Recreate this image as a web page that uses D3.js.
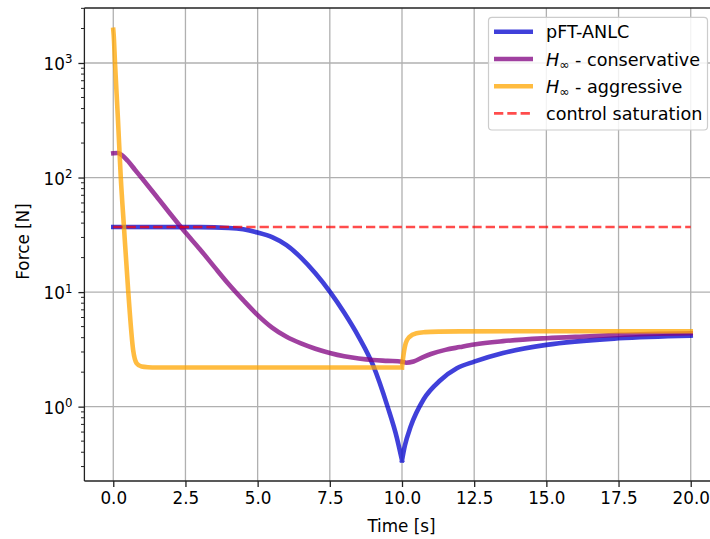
<!DOCTYPE html>
<html><head><meta charset="utf-8">
<script src="https://cdn.jsdelivr.net/npm/d3@7"></script>
<style>body{margin:0;background:#fff}svg{display:block}text{font-family:"DejaVu Sans",sans-serif;fill:#000}</style>
</head><body><svg id="c" width="710" height="539"></svg>
<script>
// ---------- data ----------
const xTickValues = [0, 2.5, 5, 7.5, 10, 12.5, 15, 17.5, 20];
const yMajorTicks = [1, 10, 100, 1000];
const seriesNames = ["pFT-ANLC", "H∞ - conservative", "H∞ - aggressive", "control saturation"];

// pFT-ANLC (split at the cusp t = 10)
const tBluePre  = [0, 3, 4, 4.5, 5, 5.5, 6, 6.5, 7, 7.5, 8, 8.5, 9, 9.5, 9.82, 10];
const fBluePre  = [37, 36.9, 36.3, 35.3, 33.1, 30.2, 25.7, 20.0, 14.6, 10.1, 6.6, 4.07, 2.29, 1.0, 0.537, 0.34];
const tBluePost = [10, 10.1, 10.3, 10.75, 11.33, 11.9, 12.5, 13.5, 15, 17.5, 20];
const fBluePost = [0.34, 0.457, 0.67, 1.16, 1.7, 2.16, 2.47, 2.94, 3.46, 3.95, 4.17];

// H∞ - conservative
const tPurple = [0, 0.15, 0.3, 0.5, 0.75, 1, 1.5, 2, 2.5, 3, 3.5, 4, 4.5, 5, 5.5, 6, 6.5, 7, 7.5, 8, 8.5, 9, 9.5, 10, 10.15, 10.4, 10.75, 11, 11.5, 12, 12.5, 13.5, 15, 16.5, 17.5, 20];
const fPurple = [163, 164, 157, 140, 117, 98, 68.4, 47.3, 33.1, 23.7, 16.6, 11.7, 8.5, 6.3, 4.9, 4.07, 3.56, 3.2, 2.94, 2.75, 2.63, 2.55, 2.51, 2.47, 2.42, 2.48, 2.72, 2.88, 3.13, 3.31, 3.49, 3.73, 3.96, 4.12, 4.23, 4.37];

// H∞ - aggressive (split at the jump t = 10)
const tYellowPre  = [0, 0.015, 0.06, 0.16, 0.26, 0.37, 0.52, 0.69, 0.81, 0.98, 1.2, 1.5, 10];
const fYellowPre  = [1950, 1750, 1000, 330, 100, 37, 10, 3.1, 2.39, 2.24, 2.21, 2.2, 2.2];
const tYellowPost = [10, 10.05, 10.13, 10.25, 10.5, 10.8, 11.3, 12, 15, 20];
const fYellowPost = [2.2, 2.8, 3.58, 4.05, 4.38, 4.47, 4.52, 4.54, 4.55, 4.55];

// control saturation
const tSat = [0, 20];
const fSat = [37, 37];

// ---------- layout ----------
const svg = d3.select("#c");
const L = 84.4, R = 719.6, T = 8, B = 481;
const x = d3.scaleLinear().domain([-1, 21]).range([L, R]);
const y = d3.scaleLog().domain([Math.pow(10, -0.649), Math.pow(10, 3.48)]).range([B, T]);
const FS = 16.8, LFS = 17.6;

svg.append("defs").append("clipPath").attr("id", "clip")
  .append("rect").attr("x", L).attr("y", T).attr("width", R - L).attr("height", B - T);

// grid
const grid = svg.append("g");
grid.selectAll("line.gx").data(xTickValues).join("line")
  .attr("x1", d => x(d)).attr("x2", d => x(d)).attr("y1", T).attr("y2", B)
  .attr("stroke", "#b0b0b0").attr("stroke-width", 1.3);
grid.selectAll("line.gy").data(yMajorTicks).join("line")
  .attr("class", "gy")
  .attr("x1", L).attr("x2", R).attr("y1", d => y(d)).attr("y2", d => y(d))
  .attr("stroke", "#b0b0b0").attr("stroke-width", 1.3);

// lines
const zip = (t, f) => t.map((v, i) => [v, f[i]]);
const line = d3.line().x(d => x(d[0])).y(d => y(d[1])).curve(d3.curveMonotoneX);
const plot = svg.append("g").attr("clip-path", "url(#clip)");
const colors = ["#0000cd", "#800080", "#ffa500", "#ff0000"];

plot.append("path").attr("d", line(zip(tBluePre, fBluePre)) + line(zip(tBluePost, fBluePost)))
  .attr("fill", "none").attr("stroke", colors[0]).attr("stroke-opacity", 0.75)
  .attr("stroke-width", 4.6).attr("stroke-linejoin", "round").attr("stroke-linecap", "square");
plot.append("path").attr("d", line(zip(tPurple, fPurple)))
  .attr("fill", "none").attr("stroke", colors[1]).attr("stroke-opacity", 0.75)
  .attr("stroke-width", 4.6).attr("stroke-linejoin", "round").attr("stroke-linecap", "square");
plot.append("path").attr("d", line(zip(tYellowPre, fYellowPre)) + line(zip(tYellowPost, fYellowPost)))
  .attr("fill", "none").attr("stroke", colors[2]).attr("stroke-opacity", 0.75)
  .attr("stroke-width", 4.6).attr("stroke-linejoin", "round").attr("stroke-linecap", "square");
plot.append("path").attr("d", d3.line().x(d => x(d[0])).y(d => y(d[1]))(zip(tSat, fSat)))
  .attr("fill", "none").attr("stroke", colors[3]).attr("stroke-opacity", 0.7)
  .attr("stroke-width", 2.6).attr("stroke-dasharray", "9.3,4");

// axes
const xAxis = d3.axisBottom(x).tickValues(xTickValues).tickFormat(d3.format(".1f")).tickSize(6).tickPadding(5);
const gx = svg.append("g").attr("transform", `translate(0,${B})`).call(xAxis);
gx.select(".domain").remove();
gx.selectAll(".tick line").attr("stroke", "#222").attr("stroke-width", 1.3);
gx.selectAll(".tick text").attr("font-size", FS).attr("font-family", "DejaVu Sans").attr("fill", "#000").attr("dy", "0.72em");

const minorTicks = [];
[-1, 0, 1, 2, 3].forEach(e => { for (let k = 2; k <= 9; k++) { const v = k * Math.pow(10, e); if (v >= y.domain()[0] && v <= y.domain()[1]) minorTicks.push(v); } });
svg.append("g").selectAll("line").data(minorTicks).join("line")
  .attr("x1", L - 3.4).attr("x2", L).attr("y1", d => y(d)).attr("y2", d => y(d))
  .attr("stroke", "#222").attr("stroke-width", 1);

const yAxis = d3.axisLeft(y).tickValues(yMajorTicks).tickSize(6).tickFormat("");
const gy = svg.append("g").attr("transform", `translate(${L},0)`).call(yAxis);
gy.select(".domain").remove();
gy.selectAll(".tick line").attr("stroke", "#222").attr("stroke-width", 1.3);
const ylab = svg.append("g").selectAll("text").data(yMajorTicks).join("text")
  .attr("x", L - 12).attr("y", d => y(d) + 7).attr("text-anchor", "end").attr("font-size", FS);
ylab.append("tspan").text("10");
ylab.append("tspan").attr("dy", -6.5).attr("font-size", FS * 0.7).text(d => Math.round(Math.log10(d)));

// spines
svg.append("line").attr("x1", L).attr("x2", L).attr("y1", T).attr("y2", B).attr("stroke", "#222").attr("stroke-width", 1.3);
svg.append("line").attr("x1", L).attr("x2", R).attr("y1", B).attr("y2", B).attr("stroke", "#222").attr("stroke-width", 1.3);
svg.append("line").attr("x1", L).attr("x2", R).attr("y1", T).attr("y2", T).attr("stroke", "#222").attr("stroke-width", 1.3);
svg.append("line").attr("x1", R).attr("x2", R).attr("y1", T).attr("y2", B).attr("stroke", "#222").attr("stroke-width", 1.3);

// axis labels
svg.append("text").attr("x", (L + R) / 2 - 0.5).attr("y", 532).attr("text-anchor", "middle").attr("font-size", FS).text("Time [s]");
svg.append("text").attr("transform", `translate(28.5,${(T + B) / 2 - 3}) rotate(-90)`).attr("text-anchor", "middle").attr("font-size", FS).text("Force [N]");

// legend
const lg = svg.append("g");
lg.append("rect").attr("x", 488.5).attr("y", 17.3).attr("width", 219).attr("height", 112.7).attr("rx", 3.5)
  .attr("fill", "#fff").attr("fill-opacity", 0.85).attr("stroke", "#cccccc").attr("stroke-width", 1.2);
const rowY = [31.7, 59, 86.2, 113.4];
seriesNames.forEach((name, i) => {
  const ln = lg.append("line").attr("x1", 494).attr("x2", 533).attr("y1", rowY[i]).attr("y2", rowY[i])
    .attr("stroke", colors[i]);
  if (i < 3) ln.attr("stroke-opacity", 0.75).attr("stroke-width", 4.6);
  else ln.attr("stroke-opacity", 0.7).attr("stroke-width", 2.6).attr("stroke-dasharray", "9.3,4");
  const t = lg.append("text").attr("x", 546).attr("y", rowY[i] + 6.6).attr("font-size", LFS);
  if (name.startsWith("H∞")) {
    t.append("tspan").attr("font-style", "italic").text("H");
    t.append("tspan").attr("font-size", LFS * 0.7).attr("dy", 3.5).text("∞");
    t.append("tspan").attr("dy", -3.5).text(name.slice(2));
  } else t.text(name);
});
</script></body></html>
